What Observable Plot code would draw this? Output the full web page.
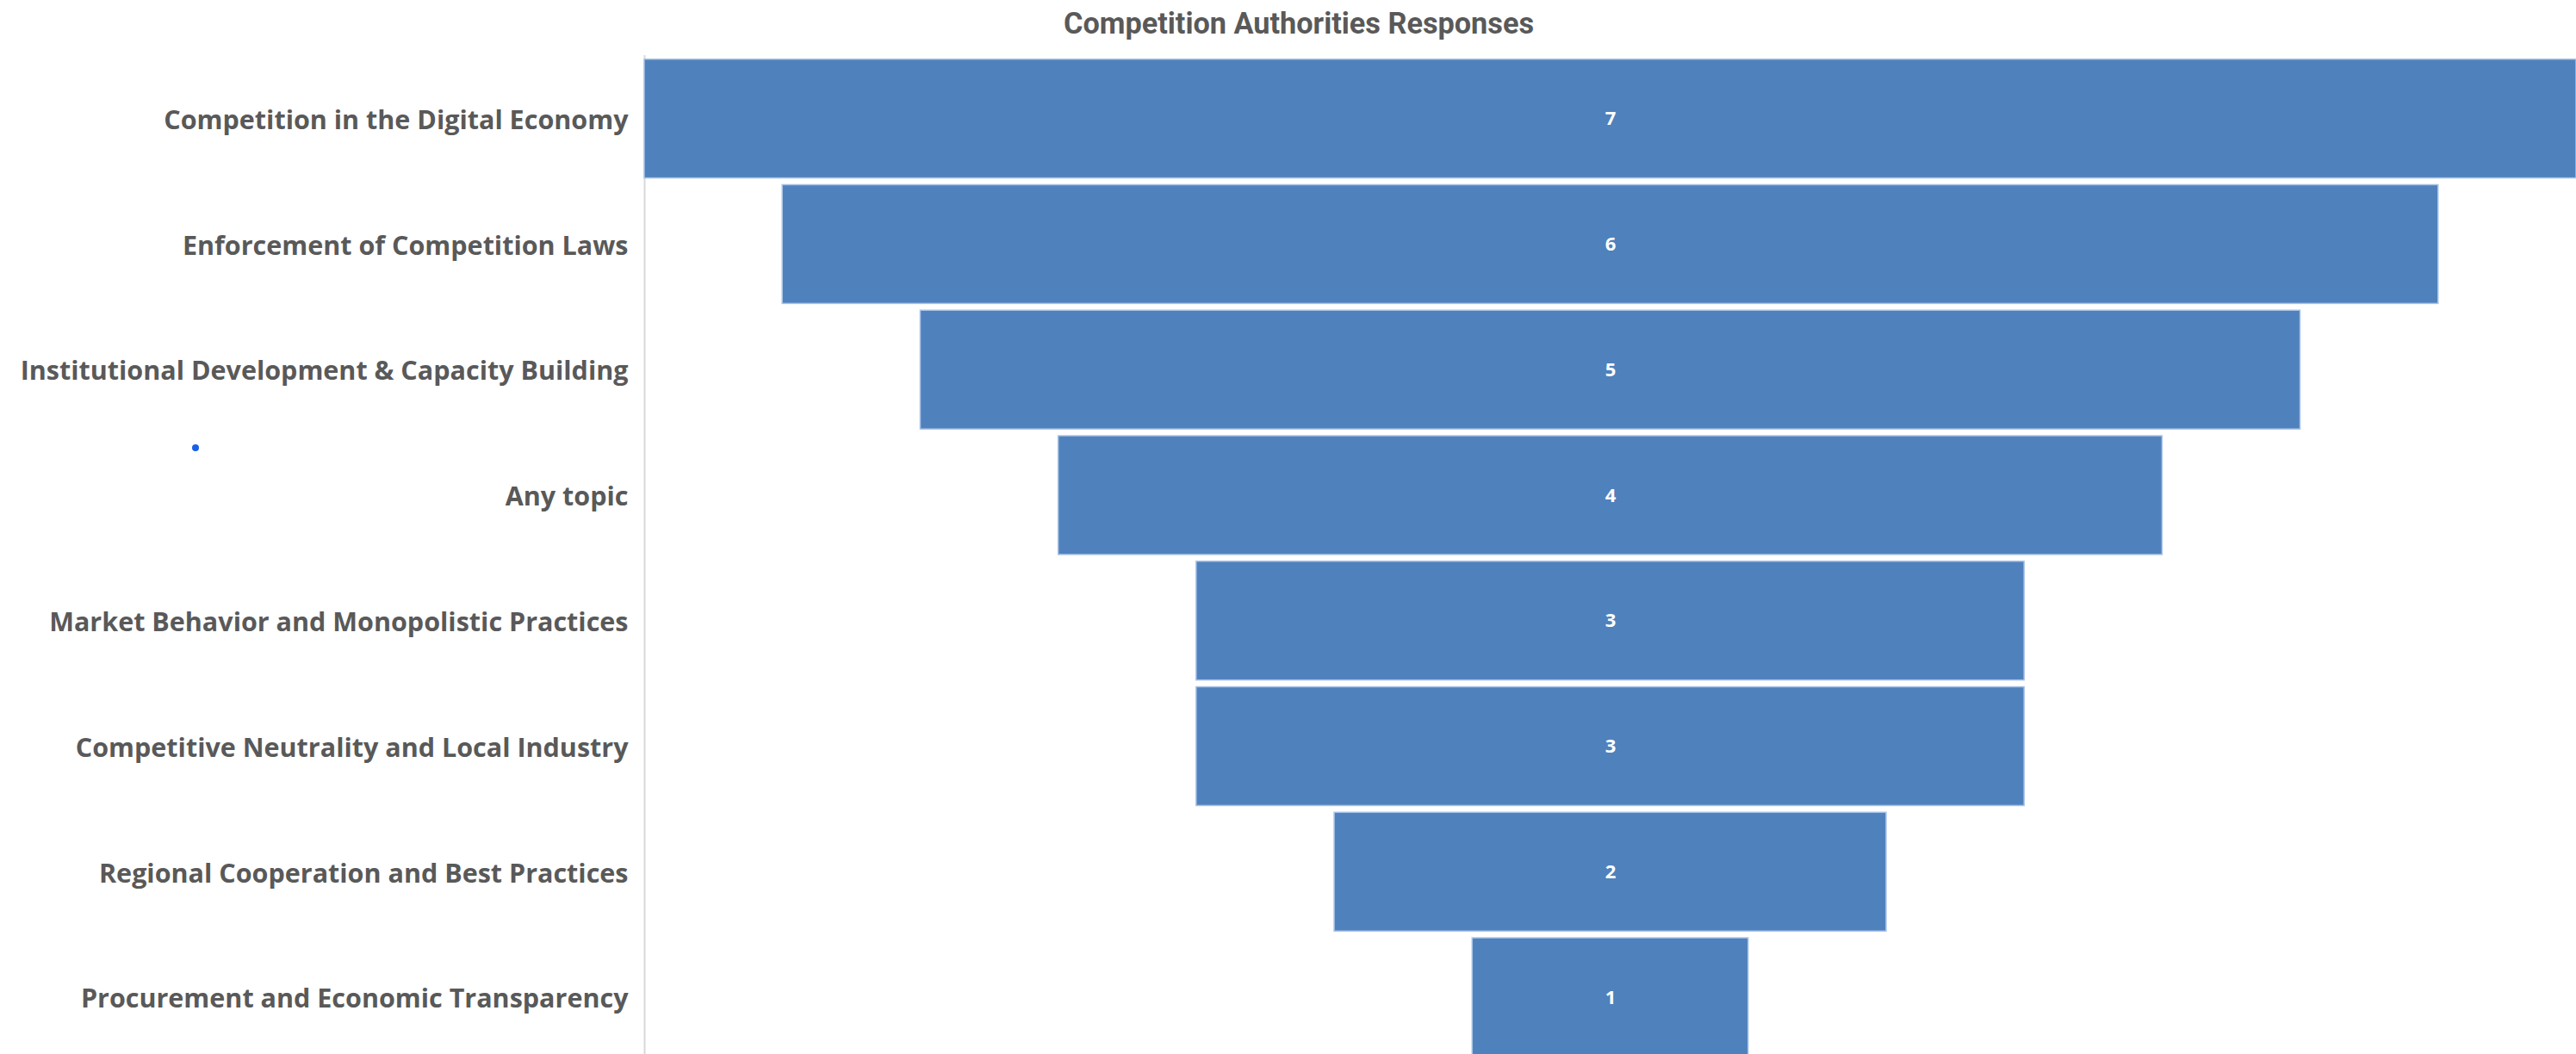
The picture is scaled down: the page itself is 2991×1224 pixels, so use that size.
<!DOCTYPE html>
<html><head><meta charset="utf-8">
<script src="https://cdn.jsdelivr.net/npm/d3@7"></script>
<script src="https://cdn.jsdelivr.net/npm/@observablehq/plot@0.6"></script>
<style>
body{margin:0;background:#fff;overflow:hidden}
#title{height:64px;width:2991px;box-sizing:border-box;padding-left:25px;padding-top:9px;text-align:center;font-family:"Roboto","Open Sans",sans-serif;font-weight:bold;font-size:35px;color:#595959;line-height:38px;overflow:hidden}
#title span{display:inline-block;transform-origin:50% 50%}
#chart svg{display:block}
#dot{position:absolute;left:223px;top:516px;width:8px;height:8px;border-radius:50%;background:#1a5fe6}
</style></head>
<body>
<div id="title"><span>Competition Authorities Responses</span></div>
<div id="chart"></div>
<div id="dot"></div>
<script>
const categories = [
  "Competition in the Digital Economy",
  "Enforcement of Competition Laws",
  "Institutional Development & Capacity Building",
  "Any topic",
  "Market Behavior and Monopolistic Practices",
  "Competitive Neutrality and Local Industry",
  "Regional Cooperation and Best Practices",
  "Procurement and Economic Transparency"
];
const values = [7, 6, 5, 4, 3, 3, 2, 1];
const data = categories.map((c, i) => ({category: c, value: values[i]}));

const plot = Plot.plot({
  width: 2991, height: 1160,
  marginLeft: 748, marginRight: 0, marginTop: 0, marginBottom: 0,
  x: {domain: [-3.5, 3.5], axis: null},
  y: {domain: categories, paddingInner: 0.054, paddingOuter: 0.027, range: [0.8, 1166.9], round: false, label: null},
  style: {fontFamily: "'Open Sans', sans-serif", fontWeight: "bold", background: "#fff", overflow: "visible"},
  marks: [
    Plot.ruleX([-3.5], {stroke: "#d9d9d9", strokeWidth: 2}),
    Plot.barX(data, {x1: d => -d.value / 2, x2: d => d.value / 2, y: "category", fill: "#4f81bd", stroke: "#a7c2e6", strokeWidth: 1.5}),
    Plot.text(data, {x: 0, y: "category", text: d => String(d.value), fill: "white", fontSize: 22, fontWeight: "bold"}),
    Plot.axisY({tickSize: 0, tickPadding: 19, fontSize: 30.5, dy: 2, color: "#595959", label: null})
  ]
});
document.getElementById("chart").append(plot);
const span = document.querySelector("#title span");
const w = span.getBoundingClientRect().width;
span.style.transform = `scaleX(${546 / w})`;
</script>
</body></html>
